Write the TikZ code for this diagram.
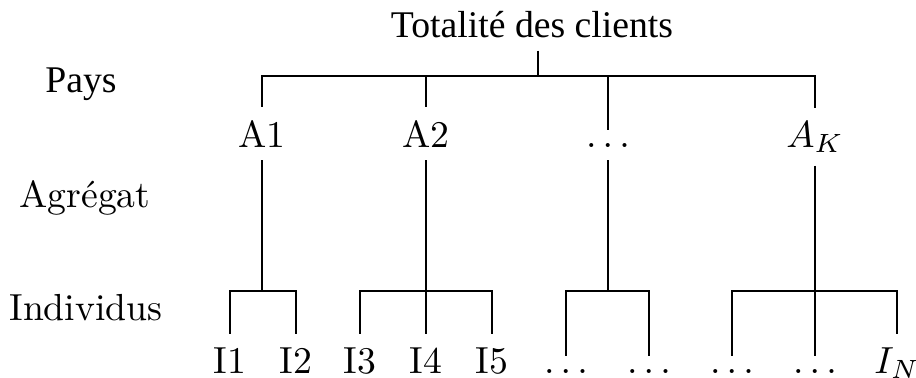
\documentclass[tikz,border=0pt]{standalone}
\usepackage{fontspec}
\newfontfamily\timesfont{Liberation Serif}
\usetikzlibrary{positioning}

\begin{document}
\begin{tikzpicture}[x=0.2653pt, y=-0.2653pt, every node/.style={anchor=base}]
    \useasboundingbox (0,0) rectangle (916,378);

    % level names
    \node (root) at (532,37) {\timesfont Totalité des clients};
    \node (pays) at (81,93) {\timesfont Pays};
    \node (agregat) at (85,207) {Agrégat};
    \node (indiv) at (86,320) {Individus};

    % aggregates
    \node (a1) at (262,147) {A1};
    \node (a2) at (426,147) {A2};
    \node (adots) at (608,147) {$\dots$};
    \node (ak) at (815,147) {$A_K$};

    % individuals
    \node (i1) at (230,373) {I1};
    \node (i2) at (296,373) {I2};
    \node (i3) at (360,373) {I3};
    \node (i4) at (426,373) {I4};
    \node (i5) at (492,373) {I5};
    \node (d1) at (566,373) {$\dots$};
    \node (d2) at (649,373) {$\dots$};
    \node (d3) at (732,373) {$\dots$};
    \node (d4) at (815,373) {$\dots$};
    \node (in) at (897,373) {$I_N$};

    \coordinate (top) at (538,76);
    \coordinate (bar) at (0,291);

    % top level
    \draw (top |- root.south) -- (top);
    \draw (a1.north) |- (top) -| (ak.north);
    \draw (a2.north) -- (a2.north |- top);
    \draw (adots.north) -- (adots.north |- top);

    % groups
    \foreach \p/\l/\r in {a1/i1/i2, a2/i3/i5, adots/d1/d2, ak/d3/in} {
        \draw (\p.south) -- (\p.south |- bar);
        \draw (\l.north) |- (\p.south |- bar) -| (\r.north);
    }
    \draw (a2.south) -- (i4.north);
    \draw (ak.south) -- (d4.north);
\end{tikzpicture}
\end{document}
